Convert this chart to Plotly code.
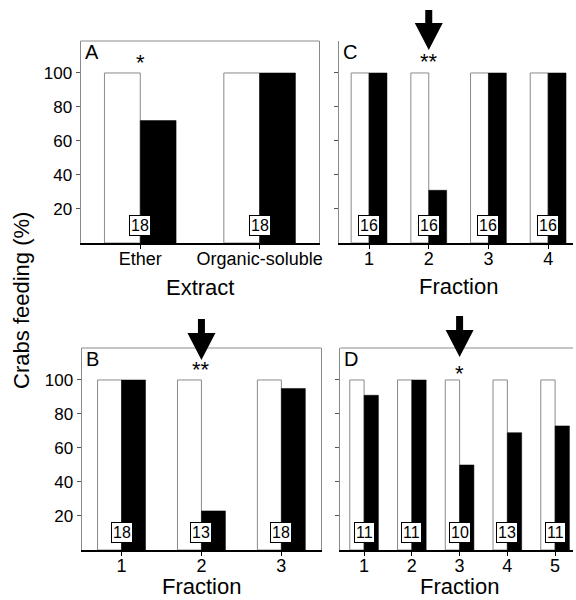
import plotly.graph_objects as go

# ---------------- data ----------------
A_categories = ["Ether", "Organic-soluble"]
A_control = [100, 100]
A_treated = [72, 100]
A_n = [18, 18]
A_sig = {"Ether": "*"}

B_fractions = [1, 2, 3]
B_control = [100, 100, 100]
B_treated = [100, 23, 95]
B_n = [18, 13, 18]
B_sig = {2: "**"}

C_fractions = [1, 2, 3, 4]
C_control = [100, 100, 100, 100]
C_treated = [100, 31, 100, 100]
C_n = [16, 16, 16, 16]
C_sig = {2: "**"}

D_fractions = [1, 2, 3, 4, 5]
D_control = [100, 100, 100, 100, 100]
D_treated = [91, 100, 50, 69, 73]
D_n = [11, 11, 10, 13, 11]
D_sig = {3: "*"}

y_ticks = [20, 40, 60, 80, 100]

# ---------------- style ----------------
FONT = "Liberation Sans, Arial, Helvetica, sans-serif"
GRAY = "#8a8a8a"
W, H = 576, 600

fig = go.Figure()

panels = [
    ("A", "", A_categories, A_control, A_treated, A_n),
    ("C", "2", C_fractions, C_control, C_treated, C_n),
    ("B", "3", B_fractions, B_control, B_treated, B_n),
    ("D", "4", D_fractions, D_control, D_treated, D_n),
]

for letter, sfx, xs, ctrl, trt, ns in panels:
    xa = "x" + sfx
    ya = "y" + sfx
    fig.add_trace(go.Bar(x=xs, y=ctrl, xaxis=xa, yaxis=ya,
                         marker=dict(color="white", line=dict(color=GRAY, width=1)),
                         showlegend=False, hoverinfo="skip"))
    fig.add_trace(go.Bar(x=xs, y=trt, xaxis=xa, yaxis=ya,
                         marker=dict(color="black", line=dict(color="black", width=0.5)),
                         showlegend=False, hoverinfo="skip"))
    for xv, nv in zip(xs, ns):
        fig.add_annotation(x=xv, y=0, xref=xa, yref=ya, text=str(nv),
                           showarrow=False, yanchor="bottom", yshift=7,
                           font=dict(family=FONT, size=16, color="black"),
                           bgcolor="white", bordercolor="black", borderwidth=1,
                           borderpad=1)
    fig.add_annotation(x=0, y=1, xref=xa + " domain", yref=ya + " domain",
                       text=letter, showarrow=False, xanchor="left", yanchor="top",
                       xshift=2, yshift=2,
                       font=dict(family=FONT, size=20, color="black"))

# ---------------- axes ----------------
rowA_y = [(600 - 243) / H, (600 - 41) / H]
rowB_y = [(600 - 550) / H, (600 - 348) / H]

xcommon = dict(showgrid=False, zeroline=False, showline=True, linecolor="black",
               linewidth=1.5, ticks="outside", ticklen=4, tickcolor="black",
               ticklabelstandoff=-5,
               tickfont=dict(family=FONT, size=18, color="black"),
               fixedrange=True)
ycommon = dict(showgrid=False, zeroline=False, showline=True, linecolor=GRAY,
               linewidth=1, ticks="outside", ticklen=4, tickcolor="#555",
               tickvals=y_ticks, range=[0, 118.8],
               tickfont=dict(family=FONT, size=17, color="black"), fixedrange=True)

fig.update_layout(
    xaxis=dict(xcommon, domain=[81 / W, 321 / W], anchor="y", range=[-0.5, 1.5]),
    yaxis=dict(ycommon, domain=rowA_y, anchor="x", mirror=True),
    xaxis2=dict(xcommon, domain=[341 / W, 1.0], anchor="y2", range=[0.5, 0.5 + 235 / 60],
                tickvals=C_fractions),
    yaxis2=dict(ycommon, domain=rowA_y, anchor="x2", showticklabels=False),
    xaxis3=dict(xcommon, domain=[82 / W, 323 / W], anchor="y3", range=[0.5, 3.5],
                tickvals=B_fractions),
    yaxis3=dict(ycommon, domain=rowB_y, anchor="x3", mirror=True),
    xaxis4=dict(xcommon, domain=[342 / W, 1.0], anchor="y4", range=[0.5, 0.5 + 234 / 48],
                tickvals=D_fractions),
    yaxis4=dict(ycommon, domain=rowB_y, anchor="x4", showticklabels=False),
)

# x-axis titles (centred on each axis' full extent)
x_titles = [("x domain", 0.5, "Extract", 287), ("x2", 2.5, "Fraction", 286),
            ("x3 domain", 0.5, "Fraction", 586), ("x4", 3.0, "Fraction", 586)]
for xref, xv, txt, ypx in x_titles:
    fig.add_annotation(x=xv, xref=xref, y=(H - ypx) / H, yref="paper", text=txt,
                       showarrow=False, xanchor="center", yanchor="middle",
                       borderpad=0,
                       font=dict(family=FONT, size=22, color="black"))

# top frame lines for A, B, D
for sfx in ["", "3", "4"]:
    fig.add_shape(type="line", xref="x" + sfx + " domain", yref="y" + sfx + " domain",
                  x0=0, x1=1, y0=1, y1=1, line=dict(color=GRAY, width=1))

# ---------------- significance markers & arrows ----------------
sig_pos = [("", A_sig, 0.895), ("2", C_sig, 0.897), ("3", B_sig, 0.385), ("4", D_sig, 0.378)]
for sfx, sig, ypap in sig_pos:
    for xv, s in sig.items():
        fig.add_annotation(x=xv, y=ypap, xref="x" + sfx, yref="paper", text=s,
                           showarrow=False, yanchor="middle", xanchor="center",
                           font=dict(family=FONT, size=22, color="black"))

arrows = [("2", 2, 10, 23, 50), ("3", 2, 319, 333, 360), ("4", 3, 316, 330, 357)]
for sfx, xv, st, ht, tp in arrows:
    s_y, h_y, t_y = (H - st) / H, (H - ht) / H, (H - tp) / H
    path = (f"M -3.5,{s_y} L 3.5,{s_y} L 3.5,{h_y} L 14,{h_y} L 0,{t_y} "
            f"L -14,{h_y} L -3.5,{h_y} Z")
    fig.add_shape(type="path", xref="x" + sfx, yref="paper", xsizemode="pixel",
                  xanchor=xv, path=path, fillcolor="black", line=dict(width=0))

fig.add_annotation(x=21 / W, y=0.5, xref="paper", yref="paper",
                   text="Crabs feeding (%)", textangle=-90, showarrow=False,
                   xanchor="center", yanchor="middle",
                   font=dict(family=FONT, size=22, color="black"))

fig.update_layout(width=W, height=H, margin=dict(l=0, r=0, t=0, b=0),
                  barmode="group", bargap=0.4, bargroupgap=0,
                  plot_bgcolor="white", paper_bgcolor="white",
                  font=dict(family=FONT, color="black"), showlegend=False)

fig.write_html("out.html",
               config={"displayModeBar": False, "staticPlot": True},
               post_script="document.body.style.margin='0';"
                           "document.body.style.overflow='hidden';")
